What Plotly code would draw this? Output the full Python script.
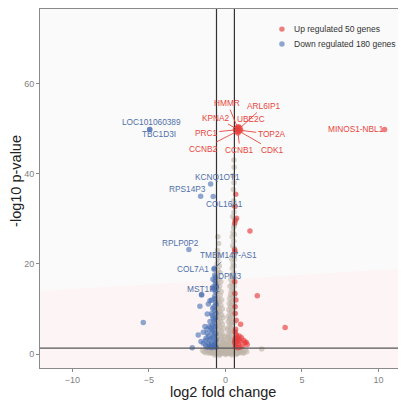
import plotly.graph_objects as go

# ---------------- data ----------------
# labelled up-regulated genes
up_genes = ["HMMR", "ARL6IP1", "KPNA2", "UBE2C", "PRC1", "TOP2A", "CCNB2", "CCNB1", "CDK1", "MINOS1-NBL1"]
up_gene_fc = [0.78, 0.95, 0.70, 0.85, 0.65, 1.00, 0.72, 0.82, 0.90, 10.4]
up_gene_p = [50.3, 50.1, 50.0, 50.4, 49.7, 49.6, 49.3, 49.0, 49.4, 49.8]

# labelled down-regulated genes
down_genes = ["LOC101060389", "TBC1D3I", "KCNQ1OT1", "RPS14P3", "COL16A1", "RPLP0P2",
              "TMEM147-AS1", "COL7A1", "DPM3", "MST1P2"]
down_gene_fc = [-4.95, -4.95, -0.97, -1.62, -0.80, -2.39, -0.72, -0.75, -0.82, -1.56]
down_gene_p = [49.8, 49.8, 37.7, 35.0, 34.9, 23.2, 19.0, 18.8, 16.6, 13.2]

# other up-regulated genes
up_fc = [0.67, 0.62, 0.73, 0.60, 0.65, 1.60, 0.60, 0.62, 0.62, 2.08, 0.99, 3.90,
         0.64, 0.70, 0.77, 0.65, 0.90, 1.05, 1.20, 1.35, 1.42, 0.75, 0.60, 0.85,
         0.95, 0.70, 1.10, 0.65, 0.95, 0.80, 1.27, 0.62, 0.72, 0.90, 0.66, 0.70,
         0.64, 0.63, 0.68, 0.61]
up_p = [35.4, 32.7, 30.1, 29.0, 29.6, 27.3, 23.1, 22.7, 13.4, 12.9, 6.6, 5.9,
        4.9, 4.3, 3.8, 3.5, 3.2, 3.6, 3.0, 2.6, 2.1, 2.8, 2.5, 2.3,
        2.7, 1.9, 1.7, 1.6, 1.5, 1.4, 2.5, 3.0, 3.3, 4.0, 5.5, 7.5,
        9.0, 10.5, 12.0, 16.0]

# other down-regulated genes
down_fc = [-0.80, -1.56, -1.01, -0.69, -1.67, -1.12, -0.84, -1.19, -0.90, -0.80,
           -1.01, -0.84, -1.06, -1.45, -1.78, -1.19, -0.90, -1.27, -1.01, -0.80,
           -1.12, -0.90, -2.17, -5.37, -0.69, -0.69, -1.45, -0.75, -0.62, -0.62,
           -1.34, -0.65, -0.70, -0.63, -0.75, -1.00, -1.30, -1.60, -0.62, -0.70,
           -0.65, -0.70, -0.80,
           -0.65, -0.70, -0.80, -0.95, -1.10, -0.75, -0.85, -0.95, -0.70, -0.75,
           -0.85, -0.70, -0.75, -0.65, -0.90, -0.65, -1.20, -1.30, -0.65, -0.60,
           -0.68, -1.05, -1.20, -0.90, -0.62]
down_p = [14.3, 13.1, 11.8, 12.3, 10.6, 11.1, 10.1, 8.9, 9.0, 7.9,
          7.2, 6.4, 6.1, 4.8, 4.2, 4.6, 4.9, 3.5, 3.1, 3.8,
          2.4, 2.2, 1.4, 7.0, 6.1, 2.4, 2.4, 14.6, 9.0, 10.9,
          6.1, 8.0, 5.5, 4.5, 1.8, 1.6, 1.9, 2.8, 3.2, 12.8,
          15.5, 17.5, 14.9,
          1.5, 2.8, 2.0, 3.5, 4.0, 4.2, 5.2, 5.8, 6.8, 7.4,
          8.5, 9.6, 10.5, 11.5, 12.0, 13.8, 5.5, 3.0, 17.0, 15.0,
          16.2, 2.0, 1.5, 1.4, 1.6]

# not significant genes
ns_fc = [0.55, 0.57, 0.50, 0.56, 0.52, 0.55, 0.50, 0.56, 0.48, 0.54, 0.50, 0.45,
         0.55, 0.48, 0.52, 0.42, 0.50, 0.45, 0.55, 0.40, 0.48, 0.35, 0.52, 0.42,
         0.30, 0.47, 0.38, 0.55, 0.33, 0.45, 0.28, 0.50, 0.38, 0.25, 0.43, 0.32,
         0.52, 0.22, 0.40, 0.30, 0.47, 0.20, 0.36, 0.27, 0.50, 0.18, 0.40, 0.30,
         0.45, 0.22, 0.35, 0.15, 0.50, 0.28, 0.40, 0.20, 0.33, 0.12, 0.46, 0.25,
         0.38, 0.10, 0.52, 0.30, 0.18, 0.42, 0.05, 0.55, 0.25, 0.35, 0.12, 0.45,
         0.20, 0.30, 0.05,
         -0.50, -0.45, -0.52, -0.42, -0.50, -0.55, -0.40, -0.48, -0.35, -0.52,
         -0.42, -0.30, -0.50, -0.38, -0.45, -0.28, -0.55, -0.35, -0.48, -0.25,
         -0.40, -0.55, -0.30, -0.45, -0.20, -0.52, -0.35, -0.42, -0.25, -0.50,
         -0.15, -0.38, -0.55, -0.30, -0.45, -0.20, -0.50, -0.35, -0.12, -0.42,
         -0.27, -0.55, -0.18, -0.38, -0.08, -0.48, -0.25, -0.58, -0.15, -0.40,
         -0.05, -0.30, -0.52, -0.20, -0.45, -0.10, -0.35, -0.60, -0.25, -0.02,
         -0.50, -0.15, -0.40,
         -1.30, -1.10, -0.90, -0.75, -0.80, -1.00, -0.70, 0.65, 0.80, 0.90,
         0.70, 1.39, 2.37, -1.50, 0.60, 0.75, 0.00, -0.30, 0.35, 0.15,
         0.58, 0.57, 0.58, 0.57, 0.58, 0.56, 0.58, 0.57, 0.58, 0.56,
         0.58, 0.57, 0.58, 0.56, 0.58, 0.10, 0.40, 0.25, 0.50,
         -0.58, -0.57, -0.58, -0.56, -0.58, -0.57, -0.58, -0.56, -0.58, -0.57,
         -0.60, -0.65, -0.80, -0.90, -1.00, -1.20, -1.10, -0.60,
         -0.45, -0.35, -0.20, -0.10, 0.00, 0.10, 0.20, 0.30, 0.45, 0.55,
         0.70, 0.85, 1.00, 1.10, 1.20, -0.05, 0.05, -0.15, 0.15, -0.25,
         0.25, -0.40, 0.40, 0.00, -0.30, 0.30, -0.55, 0.50,
         -1.40, -1.25, -1.05, -0.95, -0.85, -0.65, -0.55, -0.35, -0.22, -0.08,
         0.08, 0.22, 0.38, 0.52, 0.62, 0.78, 0.95, 1.05, 1.15, 1.30,
         -0.70, -0.40, 0.02, 0.42, 0.68, -0.12, 0.18, -0.48, 0.33, -0.28]
ns_p = [43.0, 41.4, 39.5, 38.0, 36.5, 34.0, 33.0, 31.5, 30.5, 28.0, 27.0, 26.0,
        25.0, 24.0, 22.0, 21.0, 20.0, 19.0, 18.0, 17.5, 17.0, 16.5, 16.0, 15.5,
        15.0, 14.5, 14.0, 13.8, 13.2, 12.8, 12.3, 12.0, 11.6, 11.2, 10.8, 10.4,
        10.0, 9.8, 9.5, 9.1, 8.7, 8.4, 8.1, 7.8, 7.5, 7.2, 7.0, 6.7,
        6.3, 6.0, 5.7, 5.4, 5.2, 5.0, 4.7, 4.4, 4.1, 3.8, 3.6, 3.3,
        3.0, 2.8, 2.6, 2.4, 2.2, 2.0, 1.9, 1.7, 1.5, 1.3, 1.1, 0.9,
        0.7, 0.5, 0.4,
        26.0, 24.5, 23.0, 22.0, 21.0, 20.0, 19.5, 18.5, 18.0, 17.0,
        16.5, 16.0, 15.5, 15.0, 14.3, 13.8, 13.5, 13.0, 12.5, 12.0,
        11.6, 11.2, 10.8, 10.4, 10.0, 9.7, 9.4, 9.0, 8.7, 8.4,
        8.1, 7.8, 7.5, 7.2, 6.9, 6.6, 6.3, 6.0, 5.7, 5.4,
        5.1, 4.8, 4.5, 4.2, 3.9, 3.6, 3.3, 3.0, 2.8, 2.6,
        2.4, 2.2, 2.0, 1.8, 1.6, 1.4, 1.2, 1.0, 0.8, 0.6,
        0.5, 0.3, 0.2,
        0.3, 0.6, 0.2, 0.9, 0.4, 1.2, 0.1, 0.3, 0.6, 0.2,
        1.0, 0.5, 1.1, 0.8, 0.8, 0.1, 0.1, 0.05, 0.1, 0.2,
        30.0, 28.5, 26.5, 23.5, 21.0, 19.5, 17.0, 15.0, 13.0, 11.0,
        9.0, 7.0, 5.0, 3.5, 2.2, 0.3, 0.2, 0.1, 0.4,
        22.0, 18.0, 16.0, 14.0, 12.0, 10.0, 8.0, 6.0, 4.0, 2.5,
        1.6, 0.7, 1.0, 0.7, 0.4, 0.8, 0.2, 0.3,
        0.9, 0.6, 0.4, 0.9, 0.5, 0.8, 0.3, 1.0, 0.6, 0.2,
        0.5, 0.9, 0.4, 0.8, 0.2, 1.5, 2.2, 2.5, 1.2, 1.0,
        0.6, 0.05, 0.8, 1.0, 1.5, 1.8, 1.3, 1.2,
        0.5, 1.0, 1.1, 0.2, 1.2, 0.5, 0.1, 1.4, 0.1, 1.8,
        0.2, 1.6, 1.1, 0.7, 1.1, 0.3, 1.0, 0.6, 0.3, 0.9,
        -0.2, -0.3, -0.1, -0.2, -0.1, 3.2, 3.6, 0.1, 2.9, 3.9]

fc_cut = 0.585
p_cut = 1.3
legend_labels = ["Up regulated 50 genes", "Down regulated 180 genes"]
x_ticks = [-10, -5, 0, 5, 10]
y_ticks = [0, 20, 40, 60]

# ---------------- styles ----------------
RED = "rgba(232,60,60,0.65)"
BLUE = "rgba(70,110,178,0.6)"
GREY = "rgba(190,180,168,0.6)"
RED_TXT = "#e8453c"
BLUE_TXT = "#4f6fa8"
FONT = "Liberation Sans, Arial"

# label offsets in pixels (text centre relative to point)
label_offsets = {
    "HMMR": (-10, -24, True), "ARL6IP1": (24, -22, True), "KPNA2": (-20, -11, True),
    "UBE2C": (13, -8, True), "PRC1": (-29, 3, True), "TOP2A": (31, 4, True),
    "CCNB2": (-33, 17, True), "CCNB1": (2, 17, True), "CDK1": (33, 19, True),
    "MINOS1-NBL1": (-29, 0, False),
    "LOC101060389": (2, -7, False), "TBC1D3I": (9, 5, False), "KCNQ1OT1": (7, -7, False),
    "RPS14P3": (-13, -7, False), "COL16A1": (11, 7, False), "RPLP0P2": (-8, -6, False),
    "TMEM147-AS1": (14, -13, True), "COL7A1": (-21, 0, False), "DPM3": (17, -3, False),
    "MST1P2": (2, -5, False),
}

fig = go.Figure()

fig.add_trace(go.Scatter(x=ns_fc, y=ns_p, mode="markers",
                         marker=dict(color=GREY, size=5.5, line=dict(width=0)),
                         showlegend=False, hoverinfo="skip"))
fig.add_trace(go.Scatter(x=down_fc + down_gene_fc, y=down_p + down_gene_p, mode="markers",
                         marker=dict(color=BLUE, size=5.5, line=dict(width=0)),
                         showlegend=False))
fig.add_trace(go.Scatter(x=up_fc + up_gene_fc, y=up_p + up_gene_p, mode="markers",
                         marker=dict(color=RED, size=5.5, line=dict(width=0)),
                         showlegend=False))

annotations = []
for names, xs, ys, col in [(up_genes, up_gene_fc, up_gene_p, RED_TXT),
                           (down_genes, down_gene_fc, down_gene_p, BLUE_TXT)]:
    for n, xv, yv in zip(names, xs, ys):
        ax, ay, seg = label_offsets[n]
        annotations.append(dict(x=xv, y=yv, xref="x", yref="y", text=n,
                                showarrow=True, arrowhead=0, arrowwidth=0.9,
                                arrowcolor=col if seg else "rgba(0,0,0,0)",
                                standoff=0, ax=ax, ay=ay,
                                font=dict(family=FONT, size=8.3, color=col)))

# axis titles
annotations.append(dict(x=0.5, y=-0.067, xref="paper", yref="paper", text="log2 fold change",
                        showarrow=False, yanchor="middle",
                        font=dict(family=FONT, size=14.5, color="#222")))
annotations.append(dict(x=-0.064, y=0.52, xref="paper", yref="paper", text="-log10 p-value",
                        showarrow=False, textangle=-90, xanchor="center", yanchor="middle",
                        font=dict(family=FONT, size=14.5, color="#222")))
# legend
leg_y = [0.944, 0.9025]
leg_col = [RED, BLUE]
shapes = []
for lab, ly, lc in zip(legend_labels, leg_y, leg_col):
    annotations.append(dict(x=0.689, y=ly, xref="paper", yref="paper", text=lab,
                            showarrow=False, xanchor="left", yanchor="middle",
                            font=dict(family=FONT, size=8.5, color="#333")))
    shapes.append(dict(type="circle", xref="paper", yref="paper",
                       x0=0.661 - 0.0075, x1=0.661 + 0.0075, y0=ly - 0.0076, y1=ly + 0.0076,
                       fillcolor=lc, line=dict(width=0)))

xr = [-12.12, 11.8]
yr = [-3.1, 76.5]
# background shading (lower pinkish band)
shapes.insert(0, dict(type="path", xref="x", yref="y", layer="below",
                      path=f"M {xr[0]} {yr[0]} L {xr[1]} {yr[0]} L {xr[1]} 19 L {xr[0]} 14 Z",
                      fillcolor="#fdf5f5", line=dict(width=0)))
# threshold lines
for xv in (-fc_cut, fc_cut):
    shapes.append(dict(type="line", xref="x", yref="y", x0=xv, x1=xv, y0=yr[0], y1=yr[1],
                       line=dict(color="#333", width=1.2), layer="above"))
shapes.append(dict(type="line", xref="x", yref="y", x0=xr[0], x1=xr[1], y0=p_cut, y1=p_cut,
                   line=dict(color="#555", width=1.2), layer="above"))

axis_common = dict(showgrid=False, zeroline=False, showline=True, mirror=True,
                   linecolor="#8a8a8a", linewidth=1, ticks="outside", ticklen=3,
                   tickcolor="#8a8a8a", tickfont=dict(family=FONT, size=9, color="#7f7f7f"))

# page body has an 8px margin, so the figure is sized to end at the window edge
fig.update_layout(
    width=398, height=393,
    margin=dict(l=32, r=0, t=1, b=33),
    paper_bgcolor="white", plot_bgcolor="#fafafa",
    xaxis=dict(range=xr, tickvals=x_ticks, **axis_common),
    yaxis=dict(range=yr, tickvals=y_ticks, **axis_common),
    annotations=annotations, shapes=shapes, showlegend=False,
)

fig.write_html("out.html")
